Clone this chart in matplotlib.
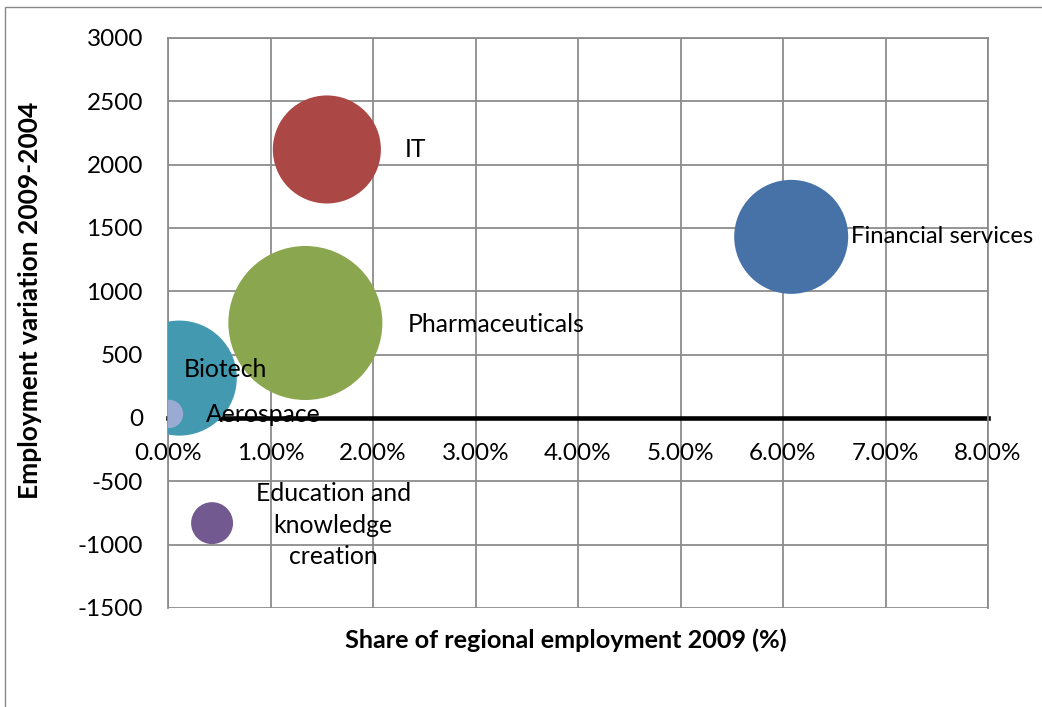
import matplotlib.pyplot as plt
from matplotlib.patches import Rectangle
from matplotlib.ticker import PercentFormatter

plt.rcParams['font.family'] = ['Lato', 'DejaVu Sans']
plt.rcParams['axes.unicode_minus'] = False

# data
clusters = ['Financial services', 'IT', 'Pharmaceuticals', 'Biotech',
            'Aerospace', 'Education and\nknowledge\ncreation']
share_2009 = [6.08, 1.55, 1.34, 0.11, 0.01, 0.43]          # % of regional employment
emp_variation = [1430, 2120, 750, 315, 32, -830]          # 2009-2004
bubble_size = [3250, 2920, 5930, 3310, 200, 440]          # relative bubble area

colors = ['#4672A8', '#AB4744', '#8AA64F', '#4399B0', '#9AABD3', '#72598F']
# label offsets in pixels from bubble centre (layout only)
label_offsets = [(60, 0), (78, 0), (102, -2), (4, 9), (37, -1), (121, -2)]
label_ha = ['left', 'left', 'left', 'left', 'left', 'center']
label_size = [17.2, 17.8, 17.8, 17.8, 17.8, 17.8]

W, H = 1042, 707
fig = plt.figure(figsize=(W / 100, H / 100), dpi=100)
fig.patches.append(Rectangle((5 / W, -0.1), 1.2, 1.1 - 7 / H, transform=fig.transFigure,
                             fill=False, edgecolor='#888888', linewidth=1))

ax = fig.add_axes([168 / W, 99 / H, 820 / W, 570 / H])

# max bubble diameter ~154 px
max_d_pt = 154 * 72 / 100
k = max_d_pt ** 2 / max(bubble_size)
ax.scatter(share_2009, emp_variation, s=[b * k for b in bubble_size],
           c=colors, linewidths=0, zorder=3)

for name, x, y, off, ha, fs in zip(clusters, share_2009, emp_variation,
                                   label_offsets, label_ha, label_size):
    ax.annotate(name, (x, y), xytext=off, textcoords='offset pixels',
                ha=ha, va='center', multialignment='center', fontsize=fs,
                linespacing=1.45, zorder=5)

ax.set_xlim(0, 8)
ax.set_ylim(-1500, 3000)
ax.set_xticks(range(0, 9))
ax.set_yticks(range(-1500, 3001, 500))
ax.xaxis.set_major_formatter(PercentFormatter(decimals=2))
ax.grid(True, color='#8C8C8C', linewidth=1.3, zorder=0)
ax.set_axisbelow(True)

ax.spines['bottom'].set_position(('data', 0))
ax.spines['bottom'].set_color('black')
ax.spines['bottom'].set_linewidth(3.3)
ax.spines['bottom'].set_zorder(2)
for side in ['left', 'top', 'right']:
    ax.spines[side].set_color('#8C8C8C')
    ax.spines[side].set_linewidth(1.3)

ax.tick_params(axis='both', length=0, labelsize=17.5)
ax.tick_params(axis='x', pad=18)
ax.tick_params(axis='y', pad=18)

fig.text(566 / W, 1 - 640 / H, 'Share of regional employment 2009 (%)',
         ha='center', va='center', fontsize=18.2, fontweight='bold')
fig.text(30 / W, 1 - 300 / H, 'Employment variation 2009-2004', rotation=90,
         ha='center', va='center', fontsize=19, fontweight='bold')

fig.savefig('out.png', dpi=100)
